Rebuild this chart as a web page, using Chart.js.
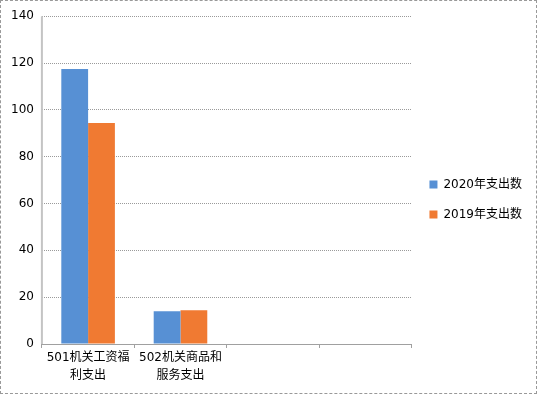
<!DOCTYPE html>
<html>
<head>
<meta charset="utf-8">
<script src="https://cdn.jsdelivr.net/npm/chart.js@4/dist/chart.umd.min.js"></script>
<style>
  html, body { margin: 0; padding: 0; background: #fff; }
  #wrap { width: 535px; height: 392px; border: 1px dashed #999; position: relative; }
</style>
</head>
<body>
<div id="wrap"><canvas id="chart" width="535" height="392"></canvas></div>
<script>
// chart data
const categories = [['501机关工资福', '利支出'], ['502机关商品和', '服务支出'], '', ''];
const spend2020 = [117.4, 14.0, null, null];
const spend2019 = [94.4, 14.4, null, null];
const yTicks = [0, 20, 40, 60, 80, 100, 120, 140];

const fontFamily = '"DejaVu Sans", "Noto Sans CJK SC", sans-serif';

// solid y axis line drawn over the dotted grid
const yAxisLine = {
    id: 'yAxisLine',
    afterDatasetsDraw(chart) {
        const a = chart.chartArea;
        const c = chart.ctx;
        c.save();
        c.strokeStyle = '#c4c4c4';
        c.lineWidth = 2;
        c.beginPath();
        c.moveTo(a.left, a.top);
        c.lineTo(a.left, a.bottom);
        c.stroke();
        c.restore();
    }
};

const ctx = document.getElementById('chart').getContext('2d');
const chart = new Chart(ctx, {
    type: 'bar',
    data: {
        labels: categories,
        datasets: [{
            label: '2020年支出数',
            data: spend2020,
            backgroundColor: '#5790d4',
            barPercentage: 1.0,
            categoryPercentage: 0.58
        }, {
            label: '2019年支出数',
            data: spend2019,
            backgroundColor: '#f07a32',
            barPercentage: 1.0,
            categoryPercentage: 0.58
        }]
    },
    options: {
        responsive: false,
        animation: false,
        layout: { padding: { top: 12, left: 2, right: 4, bottom: 7 } },
        plugins: {
            legend: {
                position: 'right',
                labels: {
                    boxWidth: 8,
                    boxHeight: 8,
                    padding: 18,
                    color: '#000',
                    font: { family: fontFamily, size: 12 }
                }
            },
            tooltip: { enabled: false }
        },
        scales: {
            x: {
                grid: {
                    display: true,
                    drawOnChartArea: false,
                    drawTicks: true,
                    tickLength: 4,
                    color: '#a0a0a0',
                    offset: true
                },
                border: { color: '#a0a0a0', width: 1 },
                ticks: {
                    color: '#000',
                    maxRotation: 0,
                    autoSkip: false,
                    padding: 1,
                    font: { family: fontFamily, size: 12, lineHeight: 1.5 }
                }
            },
            y: {
                min: 0,
                max: 140,
                afterBuildTicks: axis => { axis.ticks = yTicks.map(v => ({ value: v })); },
                grid: {
                    color: '#9a9a9a',
                    drawTicks: false
                },
                border: { display: false, dash: [1, 1] },
                ticks: {
                    padding: 8,
                    color: '#000',
                    font: { family: fontFamily, size: 12 }
                }
            }
        }
    },
    plugins: [yAxisLine]
});
</script>
</body>
</html>
